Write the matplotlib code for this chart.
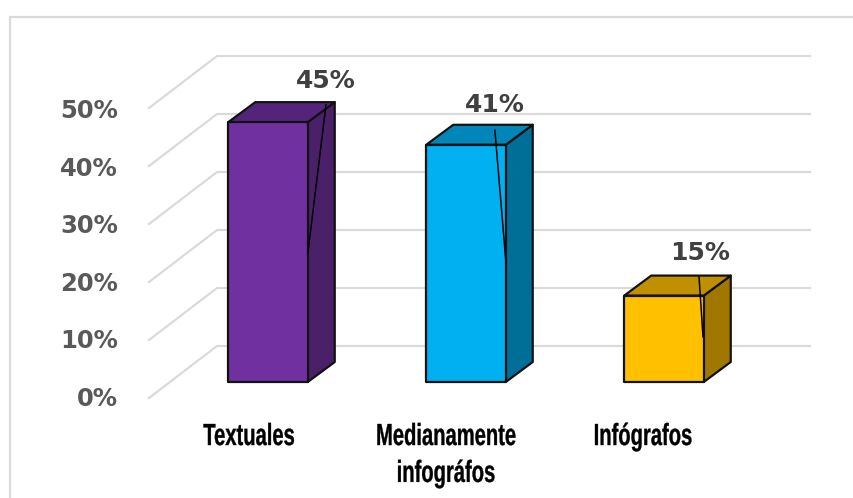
import matplotlib
matplotlib.use("Agg")
import matplotlib.pyplot as plt
from matplotlib.patches import Polygon, Rectangle
from matplotlib.patheffects import AbstractPathEffect
from matplotlib.transforms import Affine2D

W, H = 854, 498
categories = ["Textuales", "Medianamente\ninfográfos", "Infógrafos"]
values = [44.8, 40.9, 14.9]
value_labels = ["45%", "41%", "15%"]
ticks = [0, 10, 20, 30, 40, 50]
front_colors = ["#7030A0", "#00B0F0", "#FFC000"]
side_colors = ["#4A2069", "#006F98", "#A07800"]
top_colors = ["#54247A", "#0086B8", "#C09000"]

PX_PER_PCT = 5.8
PX_PER_CAT = 198.0
X0_PX, Y0_PX = 268.0, 382.0

def px(x):
    return (x - X0_PX) / PX_PER_CAT
def py(y):
    return (Y0_PX - y) / PX_PER_PCT


class Condensed(AbstractPathEffect):
    """Squeeze a text horizontally about a display x, thickening it slightly."""
    def __init__(self, cx, sx, stroke):
        super().__init__()
        self.cx, self.sx, self.stroke = cx, sx, stroke

    def draw_path(self, renderer, gc, tpath, affine, rgbFace=None):
        aff = affine + Affine2D().translate(-self.cx, 0).scale(self.sx, 1).translate(self.cx, 0)
        gc0 = renderer.new_gc()
        gc0.copy_properties(gc)
        gc0.set_linewidth(self.stroke)
        gc0.set_foreground("black")
        renderer.draw_path(gc0, tpath, aff, rgbFace)
        gc0.restore()


fig = plt.figure(figsize=(W / 100, H / 100), dpi=100, facecolor="white")
ax = fig.add_axes([0, 0, 1, 1])
ax.set_xlim(px(0), px(W))
ax.set_ylim(py(H), py(0))
ax.axis("off")

lw = 0.72
grid = "#DADADA"

ax.add_patch(Rectangle((px(10), py(560)), px(900) - px(10), py(17) - py(560),
                       fc="white", ec=grid, lw=2.2 * lw, zorder=0, clip_on=True))

dy_wall = 52 / PX_PER_PCT
x_front = px(149)
x_back = px(217)
x_end = px(810)
front_off = -16 / PX_PER_PCT
for t in ticks:
    yb = t + front_off + dy_wall
    yf = t + front_off
    ax.plot([x_front, x_back, x_end], [yf, yb, yb], color=grid, lw=2.2 * lw,
            zorder=1, solid_joinstyle="miter")
    ax.text(px(118), py(398.5) + t * 5.74 / PX_PER_PCT, f"{t}%", ha="right", va="center",
            fontsize=17.5, fontweight="bold", family="DejaVu Sans", color="#595959", zorder=5)

bar_w = 79.5 / PX_PER_CAT
ddx = 27 / PX_PER_CAT
ddy = 20 / PX_PER_PCT
edge = dict(ec="#111111", lw=2.2 * lw, joinstyle="round", zorder=3)
for i, v in enumerate(values):
    l = i - bar_w / 2
    r = i + bar_w / 2
    ax.add_patch(Polygon([(r, 0), (r + ddx, ddy), (r + ddx, v + ddy), (r, v)],
                         fc=side_colors[i], **edge))
    ax.add_patch(Polygon([(l, v), (l + ddx, v + ddy), (r + ddx, v + ddy), (r, v)],
                         fc=top_colors[i], **edge))
    ax.add_patch(Rectangle((l, 0), r - l, v, fc=front_colors[i], **edge))

label_x = [0.293, 1.146, 2.182]
label_y = [51.9, 47.8, 22.2]
leader_x = [[0.202, 0.293], [1.146, 1.202], [2.177, 2.197]]
leader_y = [[22.4, 47.8], [43.4, 20.5], [18.1, 7.8]]
for i, lab in enumerate(value_labels):
    ax.plot(leader_x[i], leader_y[i], color="black", lw=1.5 * lw, zorder=4)
    ax.text(label_x[i], label_y[i], lab, ha="center", va="center", fontsize=18,
            fontweight="bold", family="DejaVu Sans", color="#404040", zorder=5)

cat_x_px = [249, 446, 643]
cat_top_y = -6.9
for i, c in enumerate(categories):
    t = ax.text(px(cat_x_px[i]), cat_top_y, c, ha="center", va="top", fontsize=22,
                fontweight="bold", family="Liberation Sans", color="black", zorder=5,
                linespacing=1.3)
    t.set_path_effects([Condensed(cat_x_px[i], 0.66, 0.25)])

fig.savefig("out.png", dpi=100)
